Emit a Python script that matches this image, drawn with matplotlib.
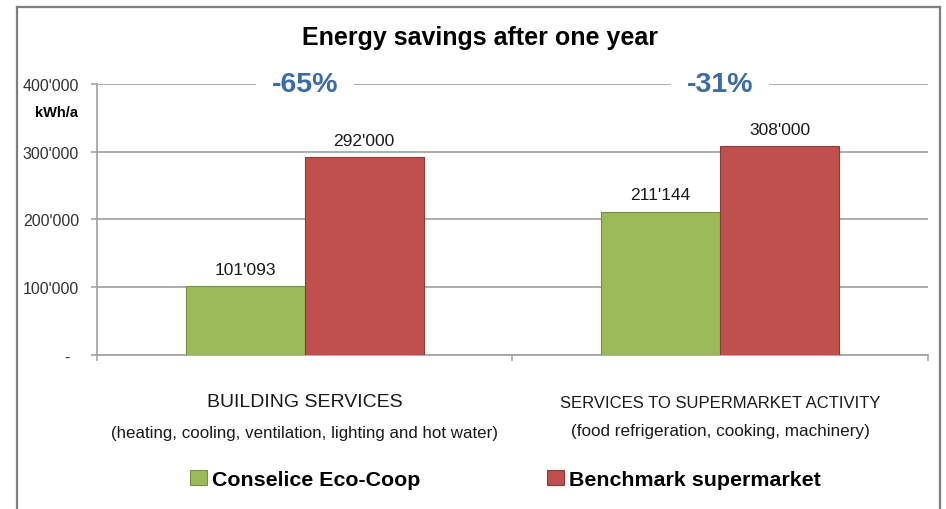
# -*- coding: utf-8
import matplotlib
matplotlib.use("Agg")
import matplotlib.pyplot as plt
from matplotlib.lines import Line2D

# データ
categories = ["BUILDING SERVICES", "SERVICES TO SUPERMARKET ACTIVITY"]
subtitles = ["(heating, cooling, ventilation, lighting and hot water)",
             "(food refrigeration, cooking, machinery)"]
series_names = ["Conselice Eco-Coop", "Benchmark supermarket"]
coop = [101093, 211144]
benchmark = [292000, 308000]
yticks = [0, 100000, 200000, 300000, 400000]

GREEN = "#9BBB59"
RED = "#C0504D"
BLUE = "#3B6BA8"
GRAY = "#A6A6A6"
FONT = ["Liberation Sans", "DejaVu Sans"]


def fmt(v):
    # 3桁区切りはアポストロフィ
    if v == 0:
        return "-  "
    return "{:,}".format(int(v)).replace(",", "'")


def main():
    plt.rcParams["font.family"] = FONT
    fig = plt.figure(figsize=(9.46, 5.10), dpi=100)
    ax = fig.add_axes([0.1025, 0.3025, 0.8784, 0.5309])

    w = 0.2864
    x = list(range(len(categories)))
    b1 = ax.bar([i - w / 2 for i in x], coop, w, color=GREEN,
                edgecolor="#76903F", linewidth=0.8, zorder=3)
    b2 = ax.bar([i + w / 2 for i in x], benchmark, w, color=RED,
                edgecolor="#8E3A38", linewidth=0.8, zorder=3)

    # 値ラベル
    for bars, vals in ((b1, coop), (b2, benchmark)):
        for r, v in zip(bars, vals):
            ax.text(r.get_x() + r.get_width() / 2, v + 25000, fmt(v),
                    ha="center", va="center", fontsize=12.5,
                    color="#1a1a1a", zorder=4)

    # 削減率
    for i in x:
        pct = round((coop[i] - benchmark[i]) / benchmark[i] * 100)
        ax.text(i, 400000, "{}%".format(pct), ha="center", va="center",
                fontsize=20.5, fontweight="bold", color=BLUE, zorder=5,
                bbox=dict(boxstyle="square,pad=0.55", fc="white", ec="none"))

    # 軸
    ax.set_xlim(-0.5, 1.5)
    ax.set_ylim(0, 400000)
    ax.set_yticks(yticks)
    ax.set_yticklabels([fmt(v) for v in yticks], fontsize=11.5,
                       color="#333333")
    ax.set_xticks([-0.5, 0.5, 1.5])
    ax.set_xticklabels([])
    ax.tick_params(axis="both", direction="out", length=4, width=1.2,
                   color=GRAY)
    ax.tick_params(axis="y", pad=9)
    for s in ("top", "right"):
        ax.spines[s].set_visible(False)
    for s in ("left", "bottom"):
        ax.spines[s].set_color(GRAY)
        ax.spines[s].set_linewidth(1.3)
    ax.yaxis.grid(True, color=GRAY, linewidth=1.3)
    ax.set_axisbelow(True)

    ax.text(-0.023, 0.897, "kWh/a", transform=ax.transAxes, ha="right",
            va="center", fontsize=10.5, fontweight="bold")

    # カテゴリ名
    tr = ax.get_xaxis_transform()
    ax.text(0, -0.171, categories[0], transform=tr, ha="center", va="center",
            fontsize=14, color="#1a1a1a")
    ax.text(1, -0.175, categories[1], transform=tr, ha="center", va="center",
            fontsize=12, color="#1a1a1a")
    ax.text(0, -0.286, subtitles[0], transform=tr, ha="center", va="center",
            fontsize=12.2, color="#1a1a1a")
    ax.text(1, -0.280, subtitles[1], transform=tr, ha="center", va="center",
            fontsize=12.3, color="#1a1a1a")

    # タイトル
    fig.text(0.507, 0.9255, "Energy savings after one year", ha="center",
             va="center", fontsize=18, fontweight="bold")

    # 凡例
    fig.legend([b1, b2], series_names, loc="center",
               bbox_to_anchor=(0.534, 0.0588), ncol=2, frameon=False,
               handlelength=0.8, handleheight=0.7, handletextpad=0.25,
               columnspacing=5.9, borderpad=0,
               prop=dict(weight="bold", size=15.4))

    # 外枠
    lc = "#7F7F7F"
    fig.add_artist(Line2D([0.018, 0.018], [0.0, 0.984], color=lc, lw=1.6,
                          transform=fig.transFigure))
    fig.add_artist(Line2D([0.018, 0.9937], [0.984, 0.984], color=lc, lw=1.6,
                          transform=fig.transFigure))
    fig.add_artist(Line2D([0.9937, 0.9937], [0.0, 0.984], color=lc, lw=1.6,
                          transform=fig.transFigure))

    fig.savefig("out.png", dpi=100, facecolor="white")


if __name__ == "__main__":
    main()
